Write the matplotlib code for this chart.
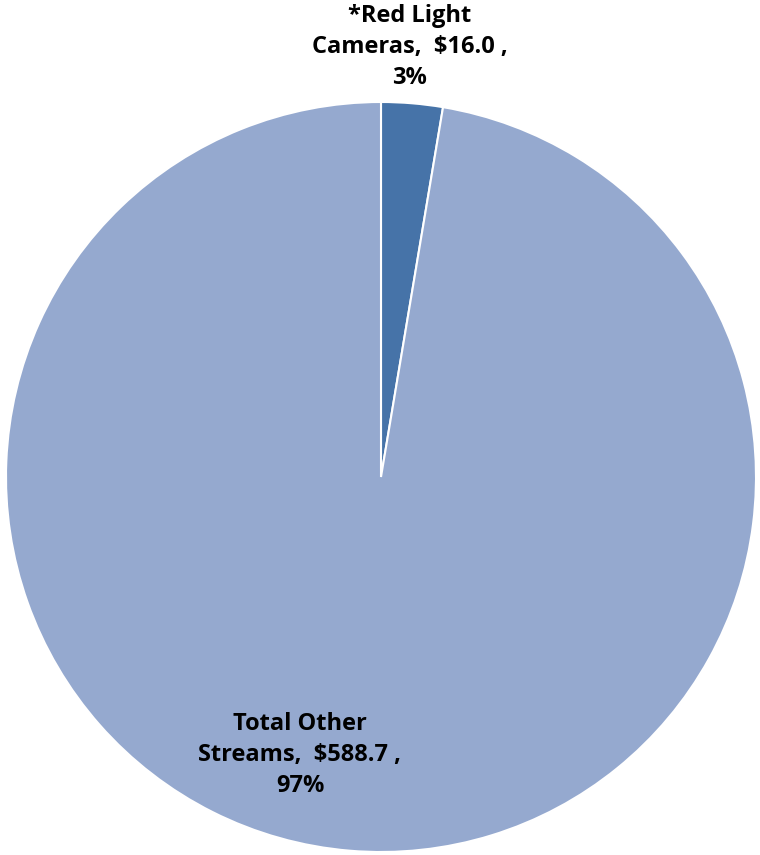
import matplotlib
matplotlib.use("Agg")
import matplotlib.pyplot as plt

categories = ["*Red Light\nCameras", "Total Other\nStreams"]
values = [16.0, 588.7]
colors = ["#4673A8", "#95A9CF"]

fig = plt.figure(figsize=(7.6, 8.55), dpi=100)
ax = fig.add_axes([6 / 760, 3 / 855, 750 / 760, 750 / 855])
wedges, _ = ax.pie(values, colors=colors, startangle=90, counterclock=False,
                   radius=1.0, wedgeprops=dict(edgecolor="white", linewidth=1.5))
ax.set_xlim(-1, 1)
ax.set_ylim(-1, 1)
ax.set_aspect("equal")
ax.axis("off")

total = sum(values)
label_pos = [(0.077, 1.147), (-0.216, -0.741)]
for cat, v, (x, y) in zip(categories, values, label_pos):
    pct = round(v / total * 100)
    first, second = cat.split("\n")
    txt = f"{first}\n{second},  ${v:.1f} ,\n{pct}%"
    ax.text(x, y, txt, ha="center", va="center", fontsize=17, fontweight="bold",
            family="Open Sans", linespacing=1.4, clip_on=False)

fig.savefig("out.png", dpi=100)
